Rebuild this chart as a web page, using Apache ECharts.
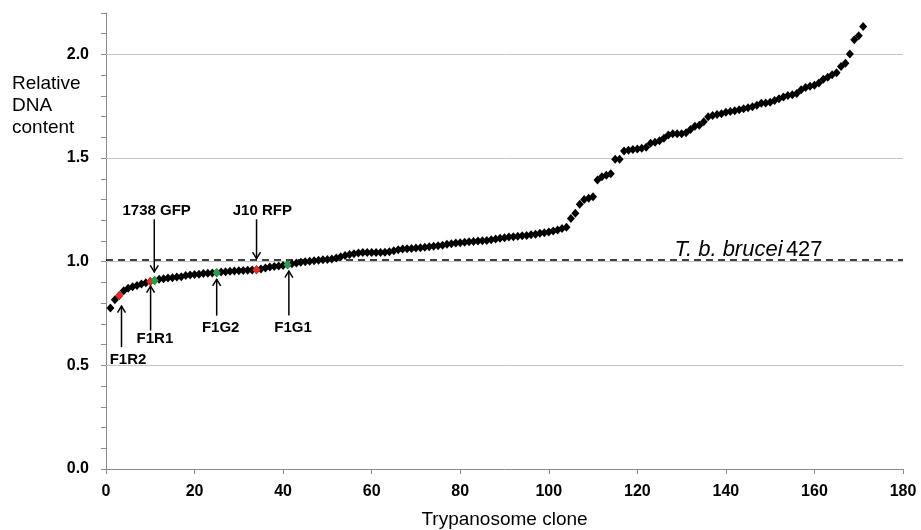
<!DOCTYPE html>
<html><head><meta charset="utf-8">
<script src="https://cdn.jsdelivr.net/npm/echarts@6/dist/echarts.min.js"></script>
<style>html,body{margin:0;padding:0;background:#fff}#c{width:921px;height:530px}</style>
</head><body><div id="c"></div>
<script>
// ---- data ----
const cloneValues = [
  0.777, 0.816, 0.837, 0.860, 0.872, 0.879, 0.885, 0.892, 0.898, 0.905,
  0.909, 0.915, 0.918, 0.921, 0.923, 0.926, 0.928, 0.933, 0.936, 0.938,
  0.940, 0.943, 0.945, 0.946, 0.947, 0.950, 0.952, 0.954, 0.955, 0.957,
  0.958, 0.959, 0.960, 0.961, 0.965, 0.970, 0.974, 0.977, 0.979, 0.982,
  0.986, 0.990, 0.994, 0.997, 1.000, 1.002, 1.005, 1.007, 1.009, 1.011,
  1.013, 1.018, 1.024, 1.030, 1.035, 1.039, 1.042, 1.044, 1.044, 1.045,
  1.045, 1.045, 1.046, 1.048, 1.053, 1.058, 1.061, 1.063, 1.064, 1.066,
  1.068, 1.070, 1.072, 1.075, 1.077, 1.080, 1.084, 1.087, 1.090, 1.092,
  1.094, 1.096, 1.098, 1.100, 1.101, 1.103, 1.106, 1.110, 1.113, 1.116,
  1.119, 1.121, 1.123, 1.125, 1.127, 1.130, 1.133, 1.137, 1.140, 1.143,
  1.148, 1.153, 1.160, 1.166, 1.208, 1.234, 1.277, 1.300, 1.306, 1.314,
  1.394, 1.410, 1.417, 1.425, 1.494, 1.494, 1.534, 1.538, 1.541, 1.544,
  1.547, 1.552, 1.572, 1.577, 1.584, 1.596, 1.612, 1.617, 1.617, 1.617,
  1.622, 1.638, 1.654, 1.658, 1.675, 1.700, 1.706, 1.710, 1.714, 1.721,
  1.725, 1.729, 1.733, 1.738, 1.743, 1.748, 1.755, 1.764, 1.766, 1.770,
  1.778, 1.786, 1.795, 1.802, 1.806, 1.812, 1.830, 1.840, 1.846, 1.852,
  1.862, 1.880, 1.890, 1.902, 1.912, 1.942, 1.958, 2.002, 2.071, 2.090,
  2.135
];
const redClones = [3, 10, 34];
const greenClones = [11, 25, 41];
const xAxisRange = [0, 180];
const xTickStep = 20;
const yAxisRange = [0, 2.2];
const yLabelStep = 0.5;
const yGridLevels = [0.5, 1.0, 1.5, 2.0];
const referenceLevel = 1.008;
const referenceName = 'T. b. brucei';
const referenceStrain = '427';
const annotationLabels = ['F1R2', 'F1R1', '1738 GFP', 'F1G2', 'J10 RFP', 'F1G1'];
const annotationClones = [3.5, 10.07, 10.9, 25, 34, 41.3];
const xAxisTitle = 'Trypanosome clone';
const yAxisTitle = 'Relative\nDNA\ncontent';

// ---- layout (data-space anchors for arrows/labels) ----
const annotationLayout = [
  { tip: 0.788, tail: 0.588, lx: 4.97,  ly: 0.527 },
  { tip: 0.885, tail: 0.668, lx: 11.05, ly: 0.630 },
  { tip: 0.949, tail: 1.205, lx: 11.44, ly: 1.246 },
  { tip: 0.917, tail: 0.740, lx: 25.9,  ly: 0.681 },
  { tip: 1.013, tail: 1.205, lx: 35.3,  ly: 1.246 },
  { tip: 0.957, tail: 0.740, lx: 42.25, ly: 0.681 }
];
const refLabelAnchor = [128.4, 1.055];

const FONT = '"Liberation Sans", Arial, Helvetica, sans-serif';
const RED = '#ee2a22';
const GREEN = '#1ea54c';

const blackPoints = cloneValues.map((v, i) => [i + 1, v]);
const colouredPoints = [
  ...redClones.map(c => ({ value: [c, cloneValues[c - 1]], itemStyle: { color: RED } })),
  ...greenClones.map(c => ({ value: [c, cloneValues[c - 1]], itemStyle: { color: GREEN } }))
];

const chart = echarts.init(document.getElementById('c'), null, { renderer: 'canvas' });
chart.setOption({
  animation: false,
  backgroundColor: '#fff',
  grid: { left: 106, right: 18, top: 13, bottom: 61, containLabel: false, outerBoundsMode: 'none' },
  xAxis: {
    type: 'value', min: xAxisRange[0], max: xAxisRange[1], interval: xTickStep,
    name: xAxisTitle, nameLocation: 'middle', nameGap: 41,
    nameTextStyle: { fontSize: 19, color: '#000', fontFamily: FONT },
    axisLine: { show: true, onZero: false, lineStyle: { color: '#8a8a8a', width: 1 } },
    axisTick: { show: true, inside: false, length: 5, lineStyle: { color: '#8a8a8a' } },
    axisLabel: { fontSize: 16, fontWeight: 'bold', color: '#000', fontFamily: FONT, margin: 15 },
    splitLine: { show: false }
  },
  yAxis: {
    type: 'value', min: yAxisRange[0], max: yAxisRange[1], interval: 0.1,
    axisLine: { show: true, onZero: false, lineStyle: { color: '#8a8a8a', width: 1 } },
    axisTick: { show: true, inside: false, length: 5, lineStyle: { color: '#8a8a8a' } },
    axisLabel: {
      fontSize: 16, fontWeight: 'bold', color: '#000', fontFamily: FONT, margin: 17,
      formatter: v => (Math.abs(v / yLabelStep - Math.round(v / yLabelStep)) < 1e-6) ? v.toFixed(1) : ''
    },
    splitLine: { show: false }
  },
  series: [
    {
      type: 'scatter', data: [], z: 1, silent: true,
      markLine: {
        silent: true, symbol: 'none', animation: false, z: 1,
        label: { show: false },
        lineStyle: { color: '#c4c4c4', width: 1, type: 'solid' },
        data: yGridLevels.map(v => ({ yAxis: v }))
      }
    },
    {
      type: 'scatter', data: [], z: 2, silent: true,
      markLine: {
        silent: true, symbol: 'none', animation: false, z: 2,
        label: { show: false },
        lineStyle: { color: '#000', width: 1.5, type: [7, 5] },
        data: [{ yAxis: referenceLevel }]
      }
    },
    {
      type: 'scatter', z: 10, symbol: 'diamond', symbolSize: [8, 9],
      itemStyle: { color: '#000', opacity: 1 },
      data: blackPoints
    },
    {
      type: 'scatter', z: 11, symbol: 'diamond', symbolSize: [8, 9],
      itemStyle: { opacity: 1 },
      data: colouredPoints
    }
  ]
});

function px(x, y) { return chart.convertToPixel({ gridIndex: 0 }, [x, y]); }
const graphics = [];
annotationLabels.forEach((txt, i) => {
  const L = annotationLayout[i];
  const x = annotationClones[i];
  const tip = px(x, L.tip), tail = px(x, L.tail), lab = px(L.lx, L.ly);
  const dir = tail[1] > tip[1] ? 1 : -1;
  graphics.push({ type: 'polyline', z: 100, shape: { points: [tail, tip] },
    style: { stroke: '#000', lineWidth: 1.5, fill: null } });
  graphics.push({ type: 'polyline', z: 100,
    shape: { points: [[tip[0] - 4, tip[1] + dir * 7], [tip[0], tip[1] + dir * 0.5], [tip[0] + 4, tip[1] + dir * 7]] },
    style: { stroke: '#000', lineWidth: 1.5, fill: null } });
  graphics.push({ type: 'text', z: 100, x: lab[0], y: lab[1],
    style: { text: txt, font: 'bold 15px ' + FONT, fill: '#000',
      align: 'center', verticalAlign: 'middle', textAlign: 'center', textVerticalAlign: 'middle' } });
});
const rp = px(refLabelAnchor[0], refLabelAnchor[1]);
graphics.push({ type: 'text', z: 100, x: rp[0], y: rp[1],
  style: { text: '{i|' + referenceName + '} {n|' + referenceStrain + '}',
    align: 'left', verticalAlign: 'middle', textAlign: 'left', textVerticalAlign: 'middle',
    fill: '#000',
    rich: {
      i: { fontStyle: 'italic', fontSize: 22, fontFamily: FONT, fill: '#000', color: '#000' },
      n: { fontSize: 22, fontFamily: FONT, fill: '#000', color: '#000' }
    } } });
graphics.push({ type: 'text', z: 100, left: 12, top: 73,
  style: { text: yAxisTitle, font: '19px ' + FONT, fill: '#000', lineHeight: 22,
    align: 'left', verticalAlign: 'top' } });
chart.setOption({ graphic: graphics });
</script>
</body></html>
